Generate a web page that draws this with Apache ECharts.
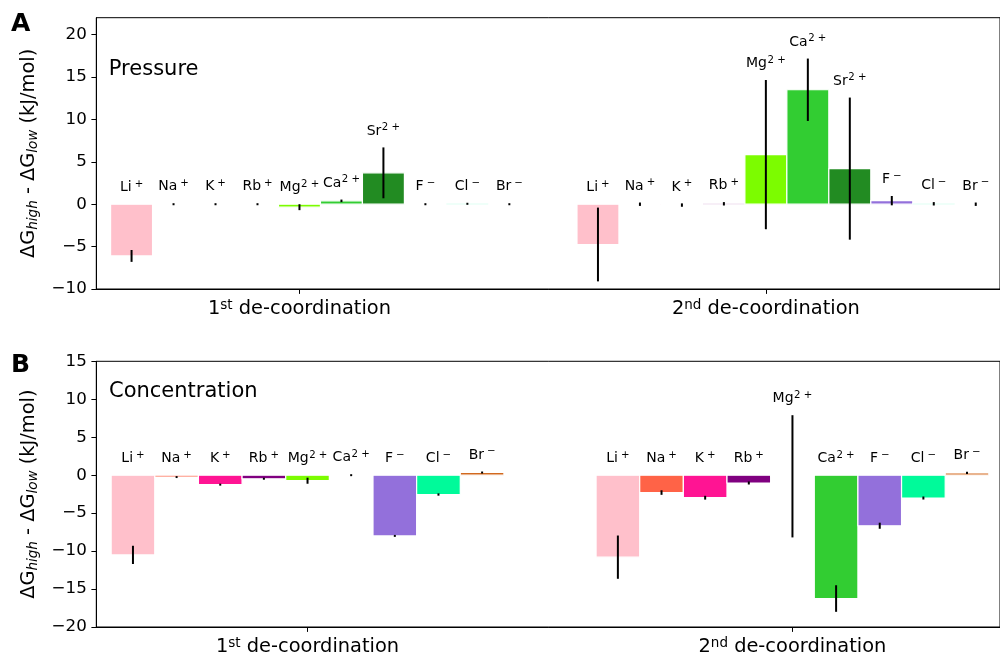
<!DOCTYPE html>
<html><head><meta charset="utf-8">
<script src="https://cdn.jsdelivr.net/npm/echarts@6/dist/echarts.min.js"></script>
<style>html,body{margin:0;padding:0;background:#fff}#c{width:1000px;height:658px}</style>
</head><body><div id="c"></div>
<script>
// ---------------- data ----------------
const groupTicks = [0, 1];
const groupOrd = ['1', '2'];
const groupSup = ['st', 'nd'];
const groupText = 'de-coordination';
const panelTitles = ['Pressure', 'Concentration'];
const panelLetters = ['A', 'B'];

const ionsA = ['Li', 'Na', 'K', 'Rb', 'Mg', 'Ca', 'Sr', 'F', 'Cl', 'Br'];
const chargesA = ['+', '+', '+', '+', '2 +', '2 +', '2 +', '−', '−', '−'];
const pressure1st    = [-6.1, 0.0, 0.0, 0.0, -0.35, 0.4, 3.7, 0.0, 0.05, 0.0];
const pressure1stErr = [0.7, 0.12, 0.12, 0.12, 0.35, 0.15, 3.0, 0.12, 0.12, 0.12];
const pressure2nd    = [-4.75, 0.0, -0.1, 0.05, 5.85, 13.5, 4.2, 0.42, 0.05, 0.0];
const pressure2ndErr = [4.35, 0.2, 0.2, 0.2, 8.8, 3.68, 8.38, 0.55, 0.2, 0.2];

const ionsB = ['Li', 'Na', 'K', 'Rb', 'Mg', 'Ca', 'F', 'Cl', 'Br'];
const chargesB = ['+', '+', '+', '+', '2 +', '2 +', '−', '−', '−'];
const conc1st    = [-10.5, -0.25, -1.25, -0.47, -0.73, 0.0, -8.0, -2.55, 0.35];
const conc1stErr = [1.2, 0.13, 0.13, 0.13, 0.4, 0.13, 0.13, 0.15, 0.13];
const conc2nd    = [-10.8, -2.29, -2.97, -1.03, -0.15, -16.25, -6.66, -3.01, 0.3];
const conc2ndErr = [2.85, 0.3, 0.25, 0.2, 8.05, 1.75, 0.4, 0.2, 0.15];

const yTicksA = [-10, -5, 0, 5, 10, 15, 20];
const yTicksB = [-20, -15, -10, -5, 0, 5, 10, 15];

// ---------------- style ----------------
const FONT = 'DejaVu Sans';
const W = 0.09;
const ionColor = {Li:'#FFC0CB', Na:'#FF6347', K:'#FF1493', Rb:'#800080', Mg:'#7CFC00',
  Ca:'#32CD32', Sr:'#228B22', F:'#9370DB', Cl:'#00FA9A', Br:'#D2691E'};

function buildSeries(gi, ions, charges, groups) {
  const items = [];
  groups.forEach((g, k) => {
    g.vals.forEach((v, i) => {
      items.push({x: groupTicks[k] + (i - 4) * W, v: v, e: g.errs[i], ion: ions[i], charge: charges[i]});
    });
  });
  return {
    type: 'custom', xAxisIndex: gi, yAxisIndex: gi,
    data: items.map(d => [d.x, d.v, d.e]),
    encode: {x: 0, y: 1},
    renderItem: function (params, api) {
      const d = items[params.dataIndex];
      const a = api.coord([d.x - W / 2, 0]);
      const b = api.coord([d.x + W / 2, d.v]);
      const t = api.coord([d.x, d.v + d.e]);
      const u = api.coord([d.x, d.v - d.e]);
      const top = api.coord([d.x, Math.max(0, d.v + d.e)]);
      const sKey = d.charge.length > 1 ? 's2' : 's';
      return {type: 'group', children: [
        {type: 'rect', shape: {x: a[0], y: Math.min(a[1], b[1]), width: b[0] - a[0], height: Math.abs(b[1] - a[1])},
          style: {fill: ionColor[d.ion], stroke: '#fff', lineWidth: 1.2}},
        {type: 'line', shape: {x1: t[0], y1: t[1], x2: u[0], y2: u[1]}, style: {stroke: '#000', lineWidth: 2}},
        {type: 'text', x: top[0], y: top[1] - 7.9, z2: 10,
          style: {text: '{m|' + d.ion + '}{' + sKey + '|' + d.charge + '}', align: 'center', verticalAlign: 'bottom', fill: '#000',
            rich: {m: {fontSize: 14, fontFamily: FONT, lineHeight: 17, fill: '#000'},
                   s: {fontSize: 10.2, fontFamily: FONT, lineHeight: 11, verticalAlign: 'top', padding: [0, 0, 0, 3], fill: '#000'},
                   s2: {fontSize: 10.2, fontFamily: FONT, lineHeight: 11, verticalAlign: 'top', padding: [0, 0, 0, 0.5], fill: '#000'}}}}
      ]};
    }
  };
}

function mkX(gi, min, max) {
  return {type: 'value', gridIndex: gi, min: min, max: max,
    axisLine: {show: true, onZero: false, lineStyle: {color: '#000', width: 1}},
    axisTick: {show: true, customValues: groupTicks, length: 4.9, lineStyle: {color: '#000', width: 1}},
    axisLabel: {customValues: groupTicks, margin: 9, color: '#000', fontSize: 19.4, fontFamily: FONT, lineHeight: 22,
      formatter: function (v) { const k = groupTicks.indexOf(v); return groupOrd[k] + '{sup|' + groupSup[k] + '} ' + groupText; },
      rich: {sup: {fontSize: 13.5, fontFamily: FONT, lineHeight: 13, verticalAlign: 'top', color: '#000'}}},
    splitLine: {show: false}};
}
function mkY(gi, min, max, ticks) {
  return {type: 'value', gridIndex: gi, min: min, max: max,
    name: 'ΔG{sub|high} - ΔG{sub|low} (kJ/mol)', nameLocation: 'middle', nameGap: 56, nameRotate: 90,
    nameTextStyle: {fontSize: 19.4, fontFamily: FONT, color: '#000', lineHeight: 22,
      rich: {sub: {fontSize: 13.5, fontStyle: 'italic', fontFamily: FONT, lineHeight: 14, verticalAlign: 'bottom', color: '#000'}}},
    axisLine: {show: true, onZero: false, lineStyle: {color: '#000', width: 1}},
    axisTick: {show: true, customValues: ticks, length: 4.9, lineStyle: {color: '#000', width: 1}},
    axisLabel: {customValues: ticks, margin: 9.5, fontSize: 16.7, fontFamily: FONT, color: '#000',
      formatter: function (v) { return String(v).replace('-', '−'); }},
    splitLine: {show: false}};
}

const chart = echarts.init(document.getElementById('c'), null, {renderer: 'canvas'});
chart.setOption({
  animation: false,
  backgroundColor: '#fff',
  textStyle: {fontFamily: FONT},
  grid: [
    {left: 96.3, top: 17.7, width: 904.7, height: 271.3, show: true, borderColor: '#000', borderWidth: 1, backgroundColor: 'transparent'},
    {left: 96.3, top: 361.3, width: 904.7, height: 271.1, show: true, borderColor: '#000', borderWidth: 1, backgroundColor: 'transparent'}
  ],
  xAxis: [mkX(0, -0.4356, 1.502), mkX(1, -0.4356, 1.428)],
  yAxis: [mkY(0, -10, 22, yTicksA), mkY(1, -20, 15, yTicksB)],
  graphic: [
    {type: 'text', x: 11, y: 24, style: {text: panelLetters[0], font: 'bold 25px "DejaVu Sans"', fill: '#000', verticalAlign: 'middle'}},
    {type: 'text', x: 11, y: 365.4, style: {text: panelLetters[1], font: 'bold 25px "DejaVu Sans"', fill: '#000', verticalAlign: 'middle'}},
    {type: 'text', x: 108.8, y: 70, style: {text: panelTitles[0], font: '21px "DejaVu Sans"', fill: '#000', verticalAlign: 'middle'}},
    {type: 'text', x: 109, y: 391.7, style: {text: panelTitles[1], font: '21px "DejaVu Sans"', fill: '#000', verticalAlign: 'middle'}}
  ],
  series: [
    buildSeries(0, ionsA, chargesA, [{vals: pressure1st, errs: pressure1stErr}, {vals: pressure2nd, errs: pressure2ndErr}]),
    buildSeries(1, ionsB, chargesB, [{vals: conc1st, errs: conc1stErr}, {vals: conc2nd, errs: conc2ndErr}])
  ]
});
</script></body></html>
